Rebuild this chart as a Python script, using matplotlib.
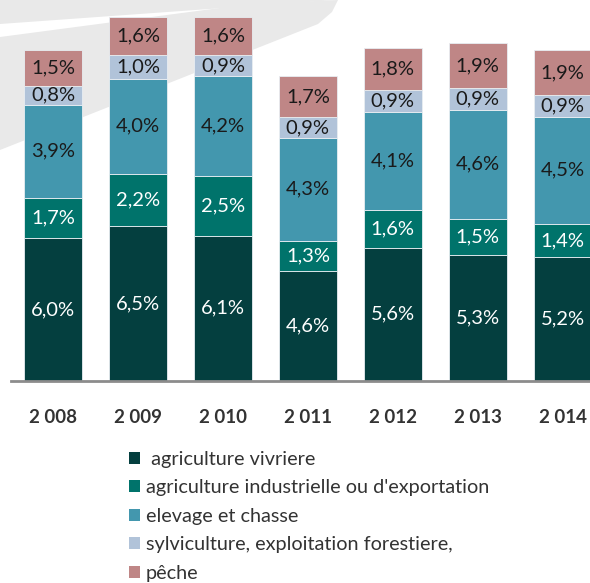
import numpy as np
import matplotlib
matplotlib.use("Agg")
from matplotlib import pyplot as plt
from matplotlib.patches import Patch, Polygon

plt.rcParams['font.family'] = ['Lato', 'DejaVu Sans']

# data
years = ["2 008", "2 009", "2 010", "2 011", "2 012", "2 013", "2 014"]
vivriere = [6.0, 6.5, 6.1, 4.6, 5.6, 5.3, 5.2]
industrielle = [1.7, 2.2, 2.5, 1.3, 1.6, 1.5, 1.4]
elevage = [3.9, 4.0, 4.2, 4.3, 4.1, 4.6, 4.5]
sylviculture = [0.8, 1.0, 0.9, 0.9, 0.9, 0.9, 0.9]
peche = [1.5, 1.6, 1.6, 1.7, 1.8, 1.9, 1.9]
labels = [" agriculture vivriere", "agriculture industrielle ou d'exportation",
          "elevage et chasse", "sylviculture, exploitation forestiere,", "pêche"]

series = [vivriere, industrielle, elevage, sylviculture, peche]
colors = ["#043f3f", "#00736b", "#4397ae", "#b1c3d9", "#bf8686"]
text_colors = ["white", "white", "#1a1a1a", "#1a1a1a", "#1a1a1a"]

fig = plt.figure(figsize=(5.9, 5.83), dpi=100)

# faint decorative swoosh behind the chart (pixel coords)
bg = fig.add_axes([0, 0, 1, 1], zorder=-1)
bg.set_xlim(0, 590)
bg.set_ylim(583, 0)
bg.axis("off")
bg.add_patch(Polygon([[0, 0], [335, 0], [0, 24]], facecolor="#e9e9e9", edgecolor="none"))
bg.add_patch(Polygon([[0, 37], [250, 4], [338, 0], [332, 12], [318, 24], [0, 150]],
                     facecolor="#e9e9e9", edgecolor="none"))

ax = fig.add_axes([0.0178, 0.3465, 1.008, 0.6535])
ax.set_facecolor("none")

x = np.arange(len(years))
bottom = np.zeros(len(years))
for vals, col, tcol in zip(series, colors, text_colors):
    vals = np.array(vals)
    ax.bar(x, vals, 0.68, bottom=bottom, color=col, edgecolor="#e8eef2", linewidth=0.6)
    for xi, b, v in zip(x, bottom, vals):
        ax.text(xi, b + v / 2, f"{v:.1f}%".replace(".", ","), ha="center", va="center",
                fontsize=14.5, color=tcol)
    bottom += vals

ax.set_xlim(-0.5, 6.5)
ax.set_ylim(0, 16.0)
for s in ["top", "right", "left"]:
    ax.spines[s].set_visible(False)
ax.spines["bottom"].set_color("#8c8c8c")
ax.spines["bottom"].set_linewidth(2)
ax.set_yticks([])
ax.set_xticks(x)
ax.set_xticklabels(years, fontsize=13.5, fontweight="bold", color="#333333")
ax.tick_params(axis="x", length=0, pad=20)

handles = [Patch(facecolor=c, edgecolor="none") for c in colors]
fig.legend(handles, labels, loc="upper left", bbox_to_anchor=(0.218, 0.227),
           frameon=False, fontsize=14.3, handlelength=0.55, handleheight=0.55,
           handletextpad=0.3, labelspacing=0.58, borderaxespad=0, borderpad=0,
           labelcolor="#333333")

fig.savefig("out.png", dpi=100)
